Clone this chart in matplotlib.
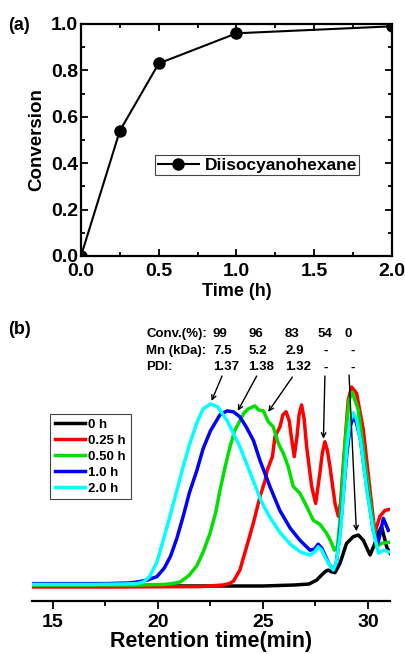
import matplotlib
matplotlib.use("Agg")
import matplotlib.pyplot as plt

plt.rcParams['font.family'] = ['Liberation Sans', 'DejaVu Sans']
plt.rcParams['font.weight'] = 'bold'
plt.rcParams['axes.labelweight'] = 'bold'

# %%
# panel (a): conversion vs time
time_h = [0.0, 0.25, 0.5, 1.0, 2.0]
conversion = [0.0, 0.54, 0.83, 0.96, 0.99]

# panel (b): GPC traces (retention time in min, normalised intensity)
labels_b = ['0 h', '0.25 h', '0.50 h', '1.0 h', '2.0 h']
colors_b = ['#000000', '#ff0000', '#00e000', '#0000ff', '#00ffff']

x_0h = [14, 20, 25, 26.5, 27.2, 27.56, 27.79, 28.0, 28.11, 28.25, 28.43, 28.67, 28.98,
        29.3, 29.54, 29.78, 29.95, 30.1, 30.33, 30.5, 30.65, 30.89, 31.05]
y_0h = [0.0, 0.0, 0.0, 0.005, 0.01, 0.03, 0.055, 0.075, 0.08, 0.072, 0.067, 0.114, 0.214,
        0.248, 0.256, 0.23, 0.19, 0.156, 0.214, 0.27, 0.298, 0.197, 0.165]

x_025h = [14, 18, 22, 23.1, 23.4, 23.6, 23.9, 24.22, 24.54, 24.86, 25.1, 25.2, 25.33, 25.45,
          25.57, 25.81, 25.95, 26.1, 26.25, 26.35, 26.49, 26.62, 26.72, 26.84, 26.96, 27.08,
          27.32, 27.51, 27.71, 27.83, 27.95, 28.07, 28.19, 28.43, 28.59, 28.7, 28.83, 29.06,
          29.22, 29.46, 29.78, 30.1, 30.33, 30.57, 30.81, 31.05]
y_025h = [-0.005, -0.005, -0.003, 0.005, 0.012, 0.025, 0.08, 0.197, 0.315, 0.45, 0.53, 0.58,
          0.617, 0.65, 0.75, 0.8, 0.86, 0.876, 0.83, 0.75, 0.65, 0.75, 0.86, 0.91, 0.84, 0.7,
          0.5, 0.415, 0.566, 0.67, 0.725, 0.68, 0.6, 0.415, 0.35, 0.42, 0.617, 0.935,
          1.0, 0.968, 0.784, 0.48, 0.27, 0.35, 0.38, 0.385]

x_050h = [14, 19, 20.3, 20.7, 21.05, 21.45, 21.84, 22.15, 22.48, 22.75, 22.95, 23.2, 23.43,
          23.65, 23.9, 24.1, 24.3, 24.62, 24.78, 25.02, 25.25, 25.49, 25.73, 25.97, 26.2,
          26.44, 26.76, 27.08, 27.4, 27.71, 28.03, 28.25, 28.4, 28.55, 28.67, 28.9, 29.1,
          29.25, 29.54, 29.86, 30.18, 30.41, 30.65, 31.05]
y_050h = [0.005, 0.005, 0.008, 0.012, 0.02, 0.05, 0.1, 0.17, 0.265, 0.37, 0.48, 0.6, 0.7,
          0.78, 0.83, 0.87, 0.89, 0.905, 0.885, 0.88, 0.826, 0.8, 0.717, 0.667, 0.6,
          0.5, 0.466, 0.4, 0.33, 0.31, 0.265, 0.22, 0.18, 0.2, 0.33, 0.7, 0.935,
          0.975, 0.885, 0.617, 0.365, 0.197, 0.215, 0.22]

x_10h = [14, 17.5, 18.6, 19.0, 19.5, 19.95, 20.3, 20.6, 20.9, 21.2, 21.5, 21.85, 22.15, 22.5,
         22.95, 23.3, 23.6, 23.9, 24.2, 24.55, 24.86, 25.33, 25.8, 26.3, 26.76, 27.24, 27.45,
         27.63, 27.8, 27.95, 28.15, 28.38, 28.5, 28.67, 28.98, 29.15, 29.3, 29.45, 29.62,
         29.94, 30.25, 30.46, 30.6, 30.73, 30.97]
y_10h = [0.012, 0.012, 0.015, 0.02, 0.03, 0.047, 0.09, 0.15, 0.24, 0.35, 0.47, 0.58, 0.69,
         0.78, 0.86, 0.88, 0.875, 0.85, 0.8, 0.73, 0.63, 0.5, 0.38, 0.29, 0.23, 0.18, 0.185,
         0.21, 0.19, 0.156, 0.11, 0.08, 0.12, 0.27, 0.65, 0.8, 0.85, 0.82, 0.75,
         0.5, 0.28, 0.21, 0.27, 0.34, 0.28]

x_20h = [14, 17, 18.3, 19.0, 19.3, 19.6, 19.95, 20.25, 20.57, 20.9, 21.2, 21.5, 21.85, 22.15,
         22.5, 22.85, 23.3, 23.9, 24.5, 24.9, 25.3, 25.8, 26.3, 26.8, 27.25, 27.45, 27.63,
         27.8, 27.95, 28.15, 28.35, 28.5, 28.7, 29.0, 29.15, 29.3, 29.45, 29.65, 29.95,
         30.25, 30.5, 30.75, 31.05]
y_20h = [0.008, 0.008, 0.01, 0.012, 0.02, 0.047, 0.12, 0.23, 0.35, 0.48, 0.6, 0.71, 0.82, 0.89,
         0.915, 0.9, 0.83, 0.70, 0.54, 0.43, 0.35, 0.27, 0.21, 0.17, 0.155, 0.17, 0.197,
         0.18, 0.147, 0.11, 0.08, 0.12, 0.28, 0.70, 0.83, 0.87, 0.84, 0.73, 0.48,
         0.28, 0.165, 0.18, 0.17]

traces_x = [x_0h, x_025h, x_050h, x_10h, x_20h]
traces_y = [y_0h, y_025h, y_050h, y_10h, y_20h]

# table above the traces
row_names = ['Conv.(%):', 'Mn (kDa):', 'PDI:']
conv_vals = ['99', '96', '83', '54', '0']
mn_vals = ['7.5', '5.2', '2.9', '-', '-']
pdi_vals = ['1.37', '1.38', '1.32', '-', '-']

# arrows: (tail x, tail y) -> (head x, head y)
arrow_tails = [(23.05, 1.055), (24.7, 1.055), (26.4, 1.05), (27.95, 1.055), (29.1, 1.06)]
arrow_heads = [(22.55, 0.93), (23.8, 0.88), (25.25, 0.875), (27.88, 0.74), (29.45, 0.275)]

# %%
fig = plt.figure(figsize=(4.06, 6.54), dpi=100)

# ---- panel (a)
ax1 = fig.add_axes([81/406, 1-256/654, (392-81)/406, (256-24)/654])
ax1.plot(time_h, conversion, '-o', color='k', lw=1.5, ms=8, label='Diisocyanohexane')
ax1.set_xlim(0, 2)
ax1.set_ylim(0, 1)
ax1.set_xticks([0, 0.5, 1.0, 1.5, 2.0])
ax1.set_xticks([0.25, 0.75, 1.25, 1.75], minor=True)
ax1.set_yticks([0, 0.2, 0.4, 0.6, 0.8, 1.0])
ax1.set_yticks([0.1, 0.3, 0.5, 0.7, 0.9], minor=True)
ax1.set_xticklabels(['0.0', '0.5', '1.0', '1.5', '2.0'], fontweight='bold')
ax1.set_yticklabels(['0.0', '0.2', '0.4', '0.6', '0.8', '1.0'], fontweight='bold')
ax1.tick_params(which='both', direction='in', top=True, right=True, width=1.3, labelsize=14)
ax1.tick_params(which='major', length=5)
ax1.tick_params(which='minor', length=3)
ax1.tick_params(axis='x', which='major', pad=5)
ax1.tick_params(axis='y', which='major', pad=2)
for sp in ax1.spines.values():
    sp.set_linewidth(1.6)
ax1.set_xlabel('Time (h)', fontsize=13, labelpad=2)
ax1.set_ylabel('Conversion', fontsize=13.5, labelpad=4)
leg1 = ax1.legend(loc='upper left', bbox_to_anchor=(155/406, 1-155/654),
                  bbox_transform=fig.transFigure, fontsize=12.5, fancybox=False,
                  edgecolor='#444444', framealpha=1, borderpad=0.15, handlelength=2.4,
                  handletextpad=0.3, borderaxespad=0)
leg1.get_frame().set_linewidth(0.8)
fig.text(8/406, 1-25/654, '(a)', fontsize=13, fontweight='bold', va='center')

# ---- panel (b)
ax2 = fig.add_axes([32/406, 1-601/654, (390-32)/406, (601-370)/654])
for xs, ys, c, lab in zip(traces_x, traces_y, colors_b, labels_b):
    ax2.plot(xs, ys, color=c, lw=2.5, label=lab)
ax2.set_xlim(14, 31.05)
ax2.set_ylim(-0.0754, 1.0854)
for side in ['left', 'right', 'top']:
    ax2.spines[side].set_visible(False)
ax2.spines['bottom'].set_linewidth(1.6)
ax2.set_yticks([])
ax2.set_xticks([15, 20, 25, 30])
ax2.set_xticks([17.5, 22.5, 27.5], minor=True)
ax2.set_xticklabels(['15', '20', '25', '30'], fontweight='bold')
ax2.tick_params(which='both', direction='out', width=1.3, labelsize=14)
ax2.tick_params(which='major', length=6)
ax2.tick_params(which='minor', length=3.5)
ax2.set_xlabel('Retention time(min)', fontsize=15.5, labelpad=0)

leg2 = ax2.legend(loc='upper left', bbox_to_anchor=(50/406, 1-414/654),
                  bbox_transform=fig.transFigure, fontsize=9.5, fancybox=False,
                  edgecolor='#444444', framealpha=1, borderpad=0.35, handlelength=2.3,
                  handletextpad=0.25, labelspacing=0.28, borderaxespad=0)
leg2.get_frame().set_linewidth(0.8)

# table text
col_x = [22.62, 24.29, 26.05, 27.62, 28.9]
row_y = [1.265, 1.18, 1.098]
for name, vals, yy in zip(row_names, [conv_vals, mn_vals, pdi_vals], row_y):
    ax2.text(19.43, yy, name, fontsize=9.5, fontweight='bold', va='center')
    for xx, v in zip(col_x, vals):
        if v == '-':
            xx = xx + 0.25
        ax2.text(xx, yy, v, fontsize=9.5, fontweight='bold', va='center')

for tail, head in zip(arrow_tails, arrow_heads):
    ax2.annotate('', xy=head, xytext=tail,
                 arrowprops=dict(arrowstyle='->', color='k', lw=1, mutation_scale=8,
                                 shrinkA=0, shrinkB=0))

fig.text(8/406, 1-329/654, '(b)', fontsize=13, fontweight='bold', va='center')

plt.savefig('out.png', dpi=100)
